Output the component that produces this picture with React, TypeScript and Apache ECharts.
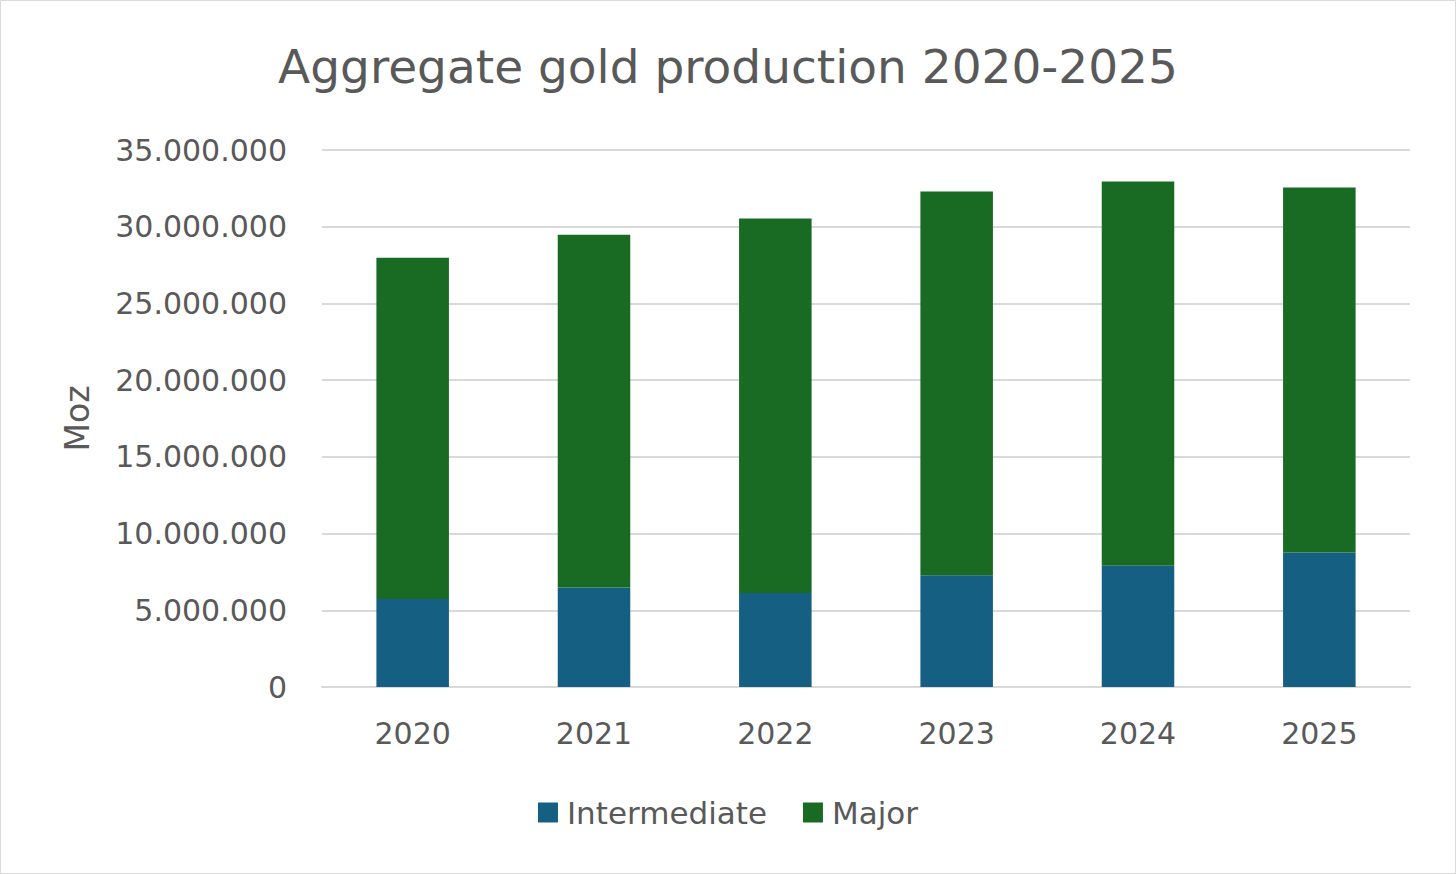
import React, { useEffect, useRef } from "react";
import * as echarts from "echarts";

const categories = ["2020", "2021", "2022", "2023", "2024", "2025"];
const intermediate = [5740000, 6480000, 6130000, 7290000, 7910000, 8760000];
const major = [22240000, 23000000, 24400000, 25000000, 25030000, 23790000];
const yTicks = [0, 5000000, 10000000, 15000000, 20000000, 25000000, 30000000, 35000000];

const FONT = "'DejaVu Sans', 'Noto Sans', sans-serif";
const TEXT = "#595959";

function fmt(v: number): string {
  return String(Math.round(v)).replace(/\B(?=(\d{3})+(?!\d))/g, ".");
}

export default function App() {
  const ref = useRef<HTMLDivElement>(null);
  useEffect(() => {
    document.body.style.margin = "0";
    const chart = echarts.init(ref.current!, null, { renderer: "svg" });
    chart.setOption({
      animation: false,
      backgroundColor: "#ffffff",
      title: {
        text: "Aggregate gold production 2020-2025",
        left: "center",
        top: 38,
        textStyle: { fontFamily: FONT, fontSize: 47, fontWeight: "normal", color: TEXT },
      },
      graphic: [
        {
          type: "rect",
          shape: { x: 0.5, y: 0.5, width: 1455, height: 873 },
          style: { fill: "none", stroke: "#d9d9d9", lineWidth: 1 },
          silent: true,
        },
      ],
      legend: {
        bottom: 41,
        left: "center",
        itemWidth: 20,
        itemHeight: 20,
        itemGap: 36,
        icon: "rect",
        textStyle: { fontFamily: FONT, fontSize: 31, color: TEXT, padding: [0, 0, 0, 4] },
        data: ["Intermediate", "Major"],
      },
      grid: { left: 322, right: 46, top: 150, bottom: 187, containLabel: false },
      xAxis: {
        type: "category",
        data: categories,
        axisTick: { show: false },
        axisLine: { lineStyle: { color: "#d9d9d9", width: 2 } },
        axisLabel: { fontFamily: FONT, fontSize: 30, color: TEXT, margin: 31 },
      },
      yAxis: {
        type: "value",
        min: 0,
        max: 35000000,
        interval: 5000000,
        name: "Moz",
        nameLocation: "middle",
        nameGap: 228,
        nameRotate: 90,
        nameTextStyle: { fontFamily: FONT, fontSize: 33, color: TEXT },
        axisLine: { show: false },
        axisTick: { show: false },
        splitLine: { lineStyle: { color: "#d9d9d9", width: 2 } },
        axisLabel: {
          fontFamily: FONT,
          fontSize: 30,
          color: TEXT,
          margin: 35,
          formatter: (v: number) => (yTicks.includes(v) ? fmt(v) : ""),
        },
      },
      series: [
        {
          name: "Intermediate",
          type: "bar",
          stack: "total",
          data: intermediate,
          barWidth: "40%",
          itemStyle: { color: "#156082" },
        },
        {
          name: "Major",
          type: "bar",
          stack: "total",
          data: major,
          barWidth: "40%",
          itemStyle: { color: "#196b24" },
        },
      ],
    });
    return () => chart.dispose();
  }, []);
  return <div ref={ref} style={{ width: 1456, height: 874 }} />;
}
